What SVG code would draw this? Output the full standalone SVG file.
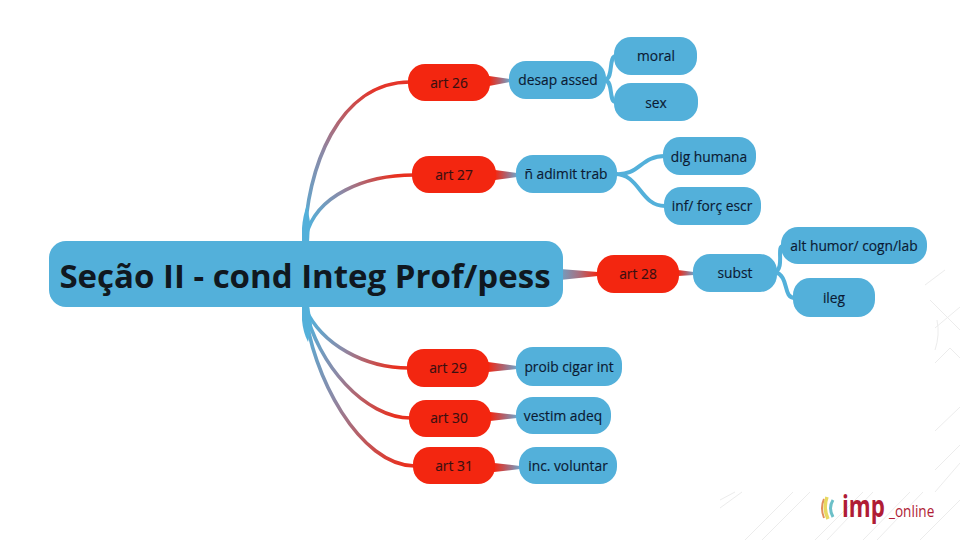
<svg xmlns="http://www.w3.org/2000/svg" width="960" height="540" viewBox="0 0 960 540">
<style>
.b{fill:#53b0da}
.r{fill:#f32610}
.t{font-family:"Open Sans","Noto Sans",sans-serif;font-size:13.8px;text-anchor:middle;fill:#0b1a33;stroke:#0b1a33;stroke-width:.15px}
.tr{fill:#3a1010;stroke:#3a1010}
.c{fill:none;stroke-linecap:round;stroke-width:3.6}
.bl{stroke:#53b0da;stroke-width:4;fill:none}
.bg{stroke:#ececec;stroke-width:1;fill:none}
</style>
<defs>
<linearGradient id="g26" gradientUnits="userSpaceOnUse" x1="305" y1="235" x2="375" y2="90"><stop offset="0" stop-color="#53b0da"/><stop offset=".5" stop-color="#8a8aa8"/><stop offset="1" stop-color="#e4352a"/></linearGradient>
<linearGradient id="g27" gradientUnits="userSpaceOnUse" x1="308" y1="225" x2="395" y2="176"><stop offset="0" stop-color="#53b0da"/><stop offset=".45" stop-color="#8a8aa8"/><stop offset="1" stop-color="#e8301f"/></linearGradient>
<linearGradient id="g29" gradientUnits="userSpaceOnUse" x1="308" y1="320" x2="395" y2="368"><stop offset="0" stop-color="#53b0da"/><stop offset=".45" stop-color="#8a8aa8"/><stop offset="1" stop-color="#e8301f"/></linearGradient>
<linearGradient id="g30" gradientUnits="userSpaceOnUse" x1="308" y1="320" x2="395" y2="417"><stop offset="0" stop-color="#53b0da"/><stop offset=".45" stop-color="#8a8aa8"/><stop offset="1" stop-color="#e8301f"/></linearGradient>
<linearGradient id="g31" gradientUnits="userSpaceOnUse" x1="306" y1="320" x2="405" y2="465"><stop offset="0" stop-color="#53b0da"/><stop offset=".45" stop-color="#8a8aa8"/><stop offset="1" stop-color="#e8301f"/></linearGradient>
<linearGradient id="gh" x1="0" y1="0" x2="1" y2="0"><stop offset="0" stop-color="#f32610"/><stop offset=".5" stop-color="#b0606c"/><stop offset="1" stop-color="#6fa6cc"/></linearGradient>
<linearGradient id="gh2" x1="0" y1="0" x2="1" y2="0"><stop offset="0" stop-color="#6fa0c4"/><stop offset=".5" stop-color="#a87080"/><stop offset="1" stop-color="#f32610"/></linearGradient>
</defs>
<g id="background">
<path class="bg" d="M935 328L960 307M935 363L950 348L960 358M935 431L960 407M935 470L960 445M935 492L960 463M937 320Q940 335 935 350M925 285L945 270M930 300L960 330"/>
<path class="bg" d="M720 500L735 492M720 508L742 492M745 540L793 492M762 540L810 492M815 540L863 492M827 540L873 492M863 540L910 492M877 540L923 492M920 540L960 500"/>
</g>
<g id="connectors">
<path class="c" stroke="url(#g26)" d="M305 240C306 170 338 82 410 82"/>
<path class="c" stroke="url(#g27)" d="M306 236C316 195 365 175 414 175"/>
<path class="c" stroke="url(#g29)" d="M305 308C322 345 365 368 409 368"/>
<path class="c" stroke="url(#g30)" d="M305 308C318 365 365 418 411 418"/>
<path class="c" stroke="url(#g31)" d="M305 308C311 375 360 466 415 466"/>
<path class="b" d="M302 243V228Q303 215 307 205L310 222L309 243Z"/>
<path class="b" d="M302 305V320Q303 332 308 342L312 325L309 305Z"/>
<path fill="url(#gh)" d="M489 76L510 79V82L489 86Z"/>
<path fill="url(#gh)" d="M495 170L517 173V177L495 180Z"/>
<path fill="url(#gh2)" d="M560 269L598 272V276L560 280Z"/>
<path fill="url(#gh)" d="M678 270L694 272V275L678 276Z"/>
<path fill="url(#gh)" d="M488 362L517 366V369L488 372Z"/>
<path fill="url(#gh)" d="M490 412L517 415V418L490 421Z"/>
<path fill="url(#gh)" d="M494 463L520 466V469L494 472Z"/>
<path class="bl" d="M605 80C614 78 608 56 616 56M605 80C614 82 608 102 616 102"/>
<path class="bl" d="M615 174C640 176 640 156 665 156M615 174C640 174 640 206 665 206"/>
<path class="bl" d="M775 272C785 268 776 246 783 246M775 272C790 276 782 298 795 298"/>
</g>
<g id="root"><rect class="b" x="49" y="241" width="514" height="66" rx="17"/><text x="305" y="288" style="font-family:'Open Sans','Noto Sans',sans-serif;font-size:33px;font-weight:700;text-anchor:middle;fill:#101820">Seção II - cond Integ Prof/pess</text></g>
<g id="art26"><rect class="r" x="408" y="64" width="82" height="37" rx="17"/><text class="t tr" x="449" y="88">art 26</text></g>
<g id="desap"><rect class="b" x="509" y="61" width="97" height="38" rx="17"/><text class="t" x="558" y="85">desap assed</text></g>
<g id="moral"><rect class="b" x="614" y="37" width="83" height="38" rx="17"/><text class="t" x="656" y="61">moral</text></g>
<g id="sex"><rect class="b" x="614" y="83" width="84" height="38" rx="17"/><text class="t" x="656" y="108">sex</text></g>
<g id="art27"><rect class="r" x="412" y="156" width="84" height="37" rx="17"/><text class="t tr" x="454" y="180">art 27</text></g>
<g id="adimit"><rect class="b" x="516" y="155" width="101" height="38" rx="17"/><text class="t" x="566" y="179">ñ adimit trab</text></g>
<g id="dig"><rect class="b" x="663" y="137" width="93" height="38" rx="17"/><text class="t" x="709" y="162">dig humana</text></g>
<g id="inf"><rect class="b" x="664" y="187" width="97" height="38" rx="17"/><text class="t" x="712" y="211">inf/ forç escr</text></g>
<g id="art28"><rect class="r" x="597" y="255" width="82" height="38" rx="17"/><text class="t tr" x="638" y="279">art 28</text></g>
<g id="subst"><rect class="b" x="693" y="254" width="84" height="38" rx="17"/><text class="t" x="735" y="278">subst</text></g>
<g id="alt"><rect class="b" x="781" y="227" width="146" height="37" rx="17"/><text class="t" x="854" y="251">alt humor/ cogn/lab</text></g>
<g id="ileg"><rect class="b" x="793" y="278" width="82" height="39" rx="17"/><text class="t" x="834" y="303">ileg</text></g>
<g id="art29"><rect class="r" x="407" y="349" width="82" height="38" rx="17"/><text class="t tr" x="448" y="373">art 29</text></g>
<g id="proib"><rect class="b" x="516" y="347" width="106" height="39" rx="17"/><text class="t" x="569" y="372">proib cigar int</text></g>
<g id="art30"><rect class="r" x="409" y="400" width="82" height="37" rx="17"/><text class="t tr" x="449" y="423">art 30</text></g>
<g id="vestim"><rect class="b" x="516" y="397" width="95" height="37" rx="17"/><text class="t" x="563" y="421">vestim adeq</text></g>
<g id="art31"><rect class="r" x="413" y="447" width="82" height="37" rx="17"/><text class="t tr" x="454" y="471">art 31</text></g>
<g id="inc"><rect class="b" x="519" y="447" width="98" height="37" rx="17"/><text class="t" x="568" y="471">inc. voluntar</text></g>
<g id="logo">
<path fill="none" stroke="#e0905a" stroke-width="2" d="M824 499Q820 508 824 518"/>
<path fill="none" stroke="#e8d860" stroke-width="3.5" d="M827 497Q823 508 828 519"/>
<path fill="none" stroke="#6cc0c8" stroke-width="3" d="M833 500Q828 508 833 517"/>
<text transform="translate(842 517) scale(.72 1)" style="font-family:'Open Sans',sans-serif;font-size:31px;font-weight:700;fill:#b01c35">imp</text>
<text transform="translate(889 517) scale(.85 1)" style="font-family:'Open Sans',sans-serif;font-size:16px;fill:#b01c35">_online</text>
</g>
</svg>
